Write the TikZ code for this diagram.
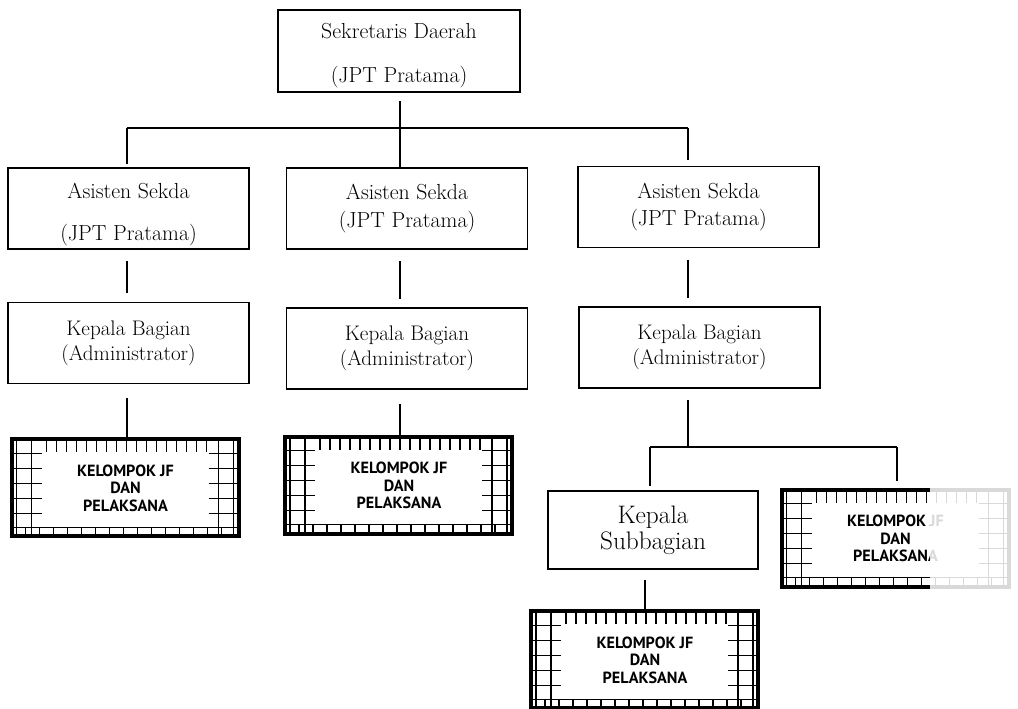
\documentclass[tikz,border=0pt]{standalone}
\usepackage{fontspec}
\newfontfamily\kelfont{PT Sans}

% hatched frame drawn round a kelompok node
\newcommand{\kelframe}[1]{%
  \begin{scope}[shift={(#1.north west)}]
    \foreach \i in {5,20,207,222}
      \draw[hatch] (\i,0) -- (\i,97);
    \foreach \j in {14,29,44,59,74}{
      \draw[hatch] (0,\j) -- (30,\j);
      \draw[hatch] (197,\j) -- (227,\j);
    }
    \foreach \i in {35,45,...,195}
      \draw[hatch] (\i,0) -- (\i,13);
    \draw[hatch] (0,88) -- (227,88);
    \foreach \i in {14,28,...,214}
      \draw[hatch] (\i,88) -- (\i,97);
    \draw[line width=2.8pt] (0,0) rectangle (227,97);
  \end{scope}}

\tikzset{
  post/.style={draw, line width=1.3pt, minimum width=6.025cm, minimum height=2.025cm,
    align=center, inner sep=2pt, font=\fontsize{15.5}{19.5}\selectfont},
  kelbox/.style={minimum width=5.675cm, minimum height=2.425cm, align=center,
    inner sep=0pt, font=\kelfont\bfseries\fontsize{11.5}{12.4}\selectfont},
  hatch/.style={line width=1pt},
  link/.style={line width=1pt},
  gapped/.style={shorten <=8pt, shorten >=6pt}
}

\begin{document}
\begin{tikzpicture}[x=0.025cm, y=-0.025cm]
  \useasboundingbox (0,0) rectangle (1018,709);

  \node[post, minimum width=6.05cm, minimum height=2.05cm] (sekda) at (399,51)
    {\rule{0pt}{17pt}Sekretaris Daerah\\[11.8pt](JPT Pratama)};

  \node[post] (asis1) at (128.5,208.5)
    {\rule{0pt}{19.5pt}Asisten Sekda\\[11pt](JPT Pratama)};
  \node[post] (asis2) at (407,208.5) {Asisten Sekda\\(JPT Pratama)};
  \node[post] (asis3) at (698.5,207) {Asisten Sekda\\(JPT Pratama)};

  \node[post, font=\fontsize{15}{17.8}\selectfont] (kabag1) at (128.5,343)
    {Kepala Bagian\\(Administrator)};
  \node[post, font=\fontsize{15}{17.8}\selectfont] (kabag2) at (407,348.5)
    {Kepala Bagian\\(Administrator)};
  \node[post, font=\fontsize{15}{17.8}\selectfont] (kabag3) at (699.5,347.5)
    {Kepala Bagian\\(Administrator)};

  \node[post, minimum width=5.25cm, minimum height=1.95cm,
    font=\fontsize{18}{18.5}\selectfont] (kasub) at (653,530) {Kepala\\Subbagian};

  \node[kelbox] (kel1) at (125.5,488) {KELOMPOK JF\\DAN\\PELAKSANA};
  \node[kelbox] (kel2) at (399,485.5) {KELOMPOK JF\\DAN\\PELAKSANA};
  \node[kelbox] (kel3) at (895.5,538.5) {KELOMPOK JF\\DAN\\PELAKSANA};
  \node[kelbox] (kel4) at (645,660) {KELOMPOK JF\\DAN\\PELAKSANA};
  \kelframe{kel1}
  \kelframe{kel2}
  \kelframe{kel3}
  \kelframe{kel4}
  % faded right part of the scanned box
  \fill[white, opacity=0.85] (930,484) rectangle (1014,592);

  \coordinate (bus) at (400,128);
  \coordinate (busL) at (127,128);
  \coordinate (busR) at (688,128);
  \coordinate (bus2) at (688,447);
  \coordinate (bus2L) at (650,447);
  \coordinate (bus2R) at (897,447);

  \draw[link] (busL) -- (busR);
  \draw[link, shorten <=6pt] (sekda.south -| bus) -- (bus);
  \draw[link] (bus) -- (asis2.north -| bus);
  \draw[link, shorten >=2pt] (busL) -- (asis1.north -| busL);
  \draw[link, shorten >=4pt] (busR) -- (asis3.north -| busR);

  \draw[link, gapped] (asis1.south -| busL) -- (kabag1.north -| busL);
  \draw[link, gapped] (asis2.south -| bus) -- (kabag2.north -| bus);
  \draw[link, gapped] (asis3.south -| busR) -- (kabag3.north -| busR);

  \draw[link, shorten <=10pt] (kabag1.south -| busL) -- (kel1.north -| busL);
  \draw[link, shorten <=10pt] (kabag2.south -| bus) -- (kel2.north -| bus);
  \draw[link, shorten <=8pt] (kabag3.south -| busR) -- (bus2);
  \draw[link] (bus2L) -- (bus2R);
  \draw[link, shorten >=3pt] (bus2L) -- (kasub.north -| bus2L);
  \draw[link, shorten >=6pt] (bus2R) -- (kel3.north -| bus2R);
  \draw[link, shorten <=7pt] (kasub.south -| kel4) -- (kel4.north);
\end{tikzpicture}
\end{document}
